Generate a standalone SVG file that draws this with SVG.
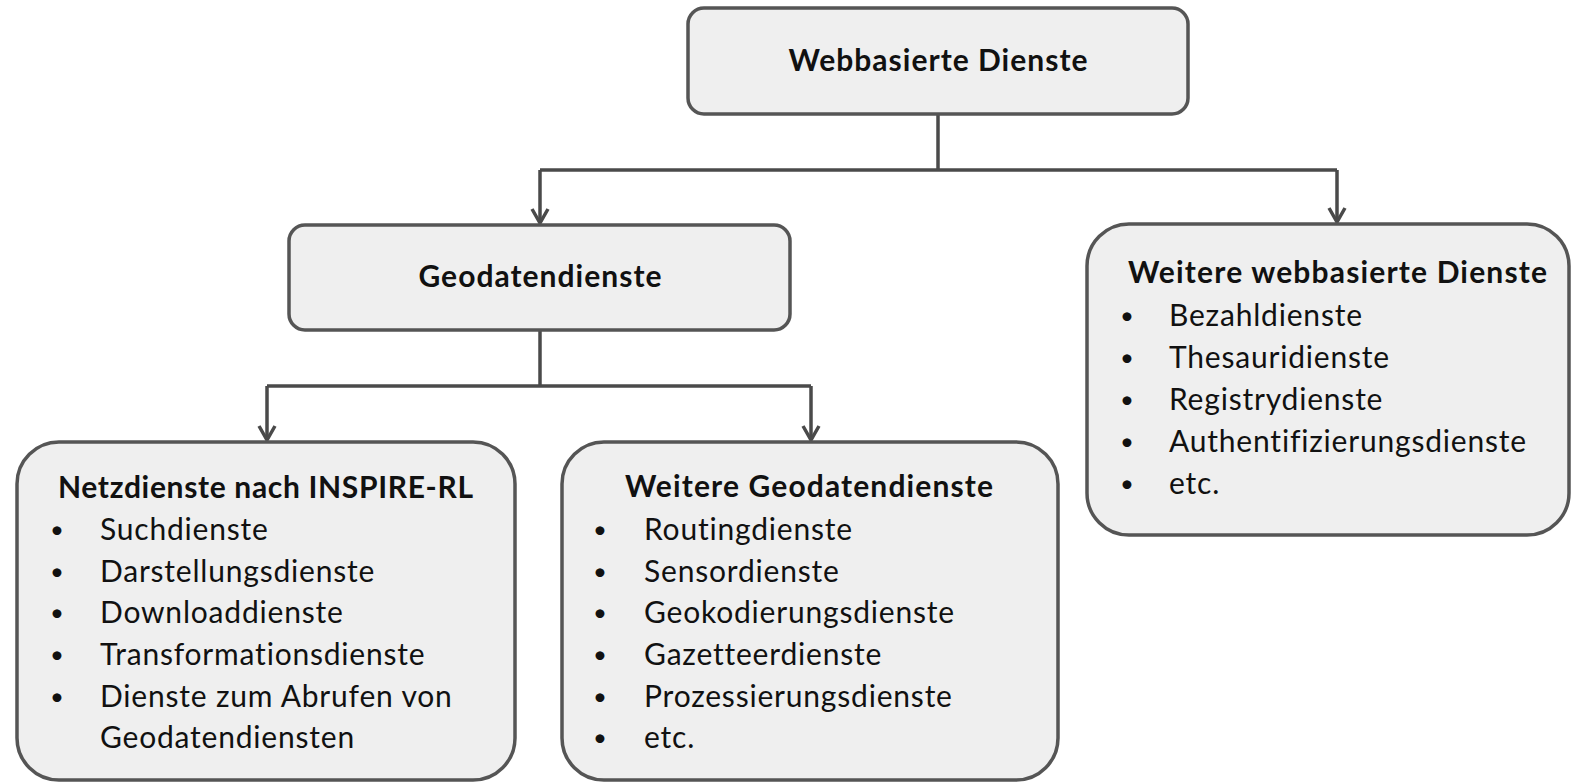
<svg xmlns="http://www.w3.org/2000/svg" width="1573" height="784" viewBox="0 0 1573 784">
<style>
.box{fill:#efefef;stroke:#555555;stroke-width:3.5}
.con{fill:none;stroke:#4a4a4a;stroke-width:3.5}
.t{font-family:Lato,"Open Sans","Liberation Sans",sans-serif;fill:#111111}
.h{font-weight:bold;font-size:30px}
.i{font-size:30px;letter-spacing:0.8px}
.b{font-size:24px}
.ttl{font-weight:bold;font-size:30px;text-anchor:middle}
</style>
<defs>
<marker id="arr" markerUnits="userSpaceOnUse" markerWidth="20" markerHeight="22" viewBox="-16 -11 18 22" refX="0" refY="0" orient="auto">
<path d="M-14,-8 L0,0 L-14,8" fill="none" stroke="#4a4a4a" stroke-width="3.5"/>
</marker>
</defs>
<rect width="1573" height="784" fill="#ffffff"/>
<g id="connectors">
<path class="con" d="M938,114 V170"/>
<path class="con" d="M540,170 H1337"/>
<path class="con" d="M540,170 V223" marker-end="url(#arr)"/>
<path class="con" d="M1337,170 V222" marker-end="url(#arr)"/>
<path class="con" d="M540,330 V386"/>
<path class="con" d="M267,386 H811"/>
<path class="con" d="M267,386 V440" marker-end="url(#arr)"/>
<path class="con" d="M811,386 V440" marker-end="url(#arr)"/>
</g>
<g id="webbasierte">
<rect class="box" x="688" y="8" width="500" height="106" rx="16"/>
<text class="t ttl" x="938" y="71" textLength="299">Webbasierte Dienste</text>
</g>
<g id="geodatendienste">
<rect class="box" x="289" y="225" width="501" height="105" rx="16"/>
<text class="t ttl" x="540" y="287" textLength="243">Geodatendienste</text>
</g>
<g id="netzdienste">
<rect class="box" x="17" y="442" width="498" height="338" rx="42"/>
<text class="t h" x="58" y="498" textLength="415">Netzdienste nach INSPIRE-RL</text>
<text class="t b" x="50" y="538">•</text><text class="t i" x="100" y="540">Suchdienste</text>
<text class="t b" x="50" y="580">•</text><text class="t i" x="100" y="582">Darstellungsdienste</text>
<text class="t b" x="50" y="621">•</text><text class="t i" x="100" y="623">Downloaddienste</text>
<text class="t b" x="50" y="663">•</text><text class="t i" x="100" y="665">Transformationsdienste</text>
<text class="t b" x="50" y="705">•</text><text class="t i" x="100" y="707">Dienste zum Abrufen von</text>
<text class="t i" x="100" y="748">Geodatendiensten</text>
</g>
<g id="weitere-geo">
<rect class="box" x="562" y="442" width="496" height="338" rx="42"/>
<text class="t h" x="625" y="497" textLength="368">Weitere Geodatendienste</text>
<text class="t b" x="593" y="538">•</text><text class="t i" x="644" y="540">Routingdienste</text>
<text class="t b" x="593" y="580">•</text><text class="t i" x="644" y="582">Sensordienste</text>
<text class="t b" x="593" y="621">•</text><text class="t i" x="644" y="623">Geokodierungsdienste</text>
<text class="t b" x="593" y="663">•</text><text class="t i" x="644" y="665">Gazetteerdienste</text>
<text class="t b" x="593" y="705">•</text><text class="t i" x="644" y="707">Prozessierungsdienste</text>
<text class="t b" x="593" y="746">•</text><text class="t i" x="644" y="748">etc.</text>
</g>
<g id="weitere-web">
<rect class="box" x="1087" y="224" width="482" height="311" rx="42"/>
<text class="t h" x="1128" y="283" textLength="419">Weitere webbasierte Dienste</text>
<text class="t b" x="1120" y="324">•</text><text class="t i" x="1169" y="326">Bezahldienste</text>
<text class="t b" x="1120" y="366">•</text><text class="t i" x="1169" y="368">Thesauridienste</text>
<text class="t b" x="1120" y="408">•</text><text class="t i" x="1169" y="410">Registrydienste</text>
<text class="t b" x="1120" y="450">•</text><text class="t i" x="1169" y="452">Authentifizierungsdienste</text>
<text class="t b" x="1120" y="492">•</text><text class="t i" x="1169" y="494">etc.</text>
</g>
</svg>
